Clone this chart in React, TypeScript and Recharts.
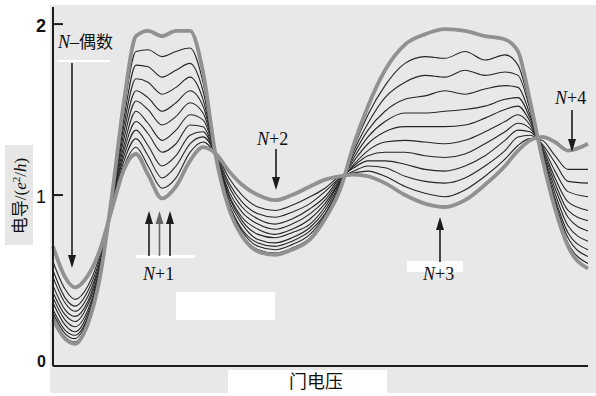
import { LineChart, Line, XAxis, YAxis } from "recharts";

// gate voltage, arbitrary units (0 = left edge of the plot)
const gateVoltage = [
  0, 12, 22, 35, 47, 59, 71, 83, 95, 109, 123, 137, 150, 163, 176, 189, 205, 222, 239,
  257, 272, 287, 301, 315, 332, 352, 372, 392, 412, 432, 452, 465, 477, 489, 502, 515, 535,
];

// conductance in e^2/h, coldest trace first, warmest last
const trace1 = [.27, .16, .13, .25, .52, 1.00, 1.55, 1.93, 1.96, 1.93, 1.96, 1.96, 1.72, 1.22, .92, .76, .67, .65, .68, .74, .86, 1.03, 1.30, 1.52, 1.73, 1.88, 1.94, 1.97, 1.96, 1.93, 1.91, 1.84, 1.55, 1.22, .92, .70, .57];
const trace2 = [.29, .17, .14, .26, .53, .99, 1.50, 1.84, 1.85, 1.81, 1.84, 1.86, 1.66, 1.22, .93, .77, .68, .66, .69, .75, .87, 1.04, 1.28, 1.47, 1.64, 1.77, 1.81, 1.80, 1.84, 1.79, 1.82, 1.76, 1.52, 1.22, .94, .72, .60];
const trace3 = [.31, .19, .16, .28, .53, .99, 1.45, 1.76, 1.75, 1.69, 1.73, 1.77, 1.61, 1.22, .94, .79, .70, .68, .71, .77, .88, 1.05, 1.26, 1.42, 1.57, 1.66, 1.70, 1.69, 1.73, 1.70, 1.72, 1.70, 1.50, 1.23, .96, .75, .64];
const trace4 = [.33, .21, .18, .29, .54, .98, 1.41, 1.68, 1.66, 1.59, 1.63, 1.69, 1.56, 1.22, .95, .80, .72, .70, .73, .79, .89, 1.06, 1.24, 1.38, 1.49, 1.56, 1.58, 1.61, 1.59, 1.62, 1.64, 1.63, 1.47, 1.24, .98, .78, .68];
const trace5 = [.37, .24, .20, .31, .56, .97, 1.37, 1.61, 1.57, 1.49, 1.54, 1.61, 1.52, 1.23, .97, .83, .74, .72, .75, .81, .91, 1.07, 1.22, 1.34, 1.43, 1.48, 1.48, 1.49, 1.50, 1.52, 1.56, 1.57, 1.45, 1.25, 1.01, .82, .73];
const trace6 = [.40, .27, .23, .33, .57, .97, 1.33, 1.55, 1.50, 1.41, 1.46, 1.54, 1.48, 1.23, .99, .85, .77, .75, .78, .83, .93, 1.08, 1.20, 1.30, 1.37, 1.40, 1.40, 1.40, 1.41, 1.45, 1.50, 1.52, 1.43, 1.26, 1.04, .87, .79];
const trace7 = [.43, .30, .26, .36, .58, .96, 1.29, 1.49, 1.42, 1.32, 1.38, 1.47, 1.44, 1.23, 1.00, .87, .80, .77, .80, .86, .95, 1.08, 1.18, 1.26, 1.31, 1.32, 1.31, 1.30, 1.32, 1.37, 1.43, 1.47, 1.41, 1.27, 1.07, .91, .85];
const trace8 = [.47, .33, .29, .38, .60, .95, 1.26, 1.43, 1.36, 1.25, 1.30, 1.41, 1.40, 1.23, 1.02, .90, .83, .80, .83, .89, .97, 1.09, 1.17, 1.23, 1.25, 1.25, 1.23, 1.22, 1.24, 1.30, 1.37, 1.42, 1.39, 1.28, 1.10, .96, .91];
const trace9 = [.52, .37, .32, .41, .61, .95, 1.23, 1.38, 1.29, 1.17, 1.23, 1.35, 1.37, 1.23, 1.05, .93, .86, .83, .86, .92, .99, 1.10, 1.16, 1.20, 1.20, 1.18, 1.15, 1.14, 1.17, 1.23, 1.32, 1.38, 1.37, 1.29, 1.14, 1.02, .99];
const trace10 = [.56, .40, .35, .44, .63, .94, 1.20, 1.33, 1.23, 1.10, 1.17, 1.30, 1.34, 1.24, 1.07, .96, .89, .87, .90, .95, 1.02, 1.10, 1.14, 1.17, 1.16, 1.11, 1.08, 1.07, 1.10, 1.17, 1.26, 1.34, 1.35, 1.30, 1.19, 1.08, 1.07];
const trace11 = [.61, .45, .39, .47, .65, .93, 1.17, 1.28, 1.17, 1.04, 1.10, 1.25, 1.31, 1.24, 1.10, 1.00, .93, .91, .94, .99, 1.04, 1.11, 1.13, 1.14, 1.11, 1.05, 1.01, .99, 1.03, 1.11, 1.21, 1.29, 1.33, 1.32, 1.23, 1.15, 1.15];
const trace12 = [.70, .52, .46, .53, .68, .92, 1.15, 1.24, 1.12, .98, 1.05, 1.20, 1.28, 1.24, 1.14, 1.06, 1.00, .97, 1.00, 1.05, 1.09, 1.11, 1.12, 1.11, 1.07, 1.00, .95, .93, .97, 1.06, 1.17, 1.26, 1.32, 1.34, 1.31, 1.26, 1.30];

const traces = [trace1, trace2, trace3, trace4, trace5, trace6, trace7, trace8, trace9, trace10, trace11, trace12];
const yTicks = [0, 1, 2];

const data = gateVoltage.map((v, i) => {
  const row: Record<string, number> = { v };
  traces.forEach((t, k) => {
    row["t" + k] = t[i];
  });
  return row;
});

const INK = "#1c1c1c";
const SERIF = "'Liberation Serif', 'DejaVu Serif', serif";
const CJK = "'Noto Sans CJK SC', sans-serif";

function YTick(props: any) {
  const { y, payload } = props;
  const v = payload.value;
  return (
    <g>
      {v > 0 && <line x1={53} x2={63} y1={y} y2={y} stroke={INK} strokeWidth={2} />}
      <text
        x={46}
        y={v === 0 ? y - 5 : y + 2}
        dy="0.35em"
        textAnchor="end"
        fontSize={v === 0 ? 16 : 18}
        fontWeight={v === 1 ? 400 : 700}
        fontFamily="'Liberation Sans', Arial, sans-serif"
        fill="#111"
      >
        {v}
      </text>
    </g>
  );
}

function Arrow({ x, from, to, color = INK }: { x: number; from: number; to: number; color?: string }) {
  const dir = to > from ? 1 : -1;
  return (
    <g>
      <line x1={x} x2={x} y1={from} y2={to - dir * 9} stroke={color} strokeWidth={1.6} />
      <polygon points={`${x},${to} ${x - 4},${to - dir * 13} ${x + 4},${to - dir * 13}`} fill={color} />
    </g>
  );
}

function Label({ x, y, n }: { x: number; y: number; n: string }) {
  return (
    <text x={x} y={y} fontSize={18} fontFamily={SERIF} fill="#111">
      <tspan fontStyle="italic">N</tspan>
      {n}
    </text>
  );
}

const box = (left: number, top: number, width: number, height: number, background: string) => (
  <div style={{ position: "absolute", left, top, width, height, background }} />
);

export default function App() {
  return (
    <div style={{ position: "absolute", left: 0, top: 0, width: 596, height: 396, background: "#fff", overflow: "hidden" }}>
      {box(50, 5, 546, 388, "#e8e8e8")}
      {box(5, 145, 28, 100, "#e6e6e6")}
      {box(57, 60, 53, 2, "#fff")}
      {box(176, 292, 99, 28, "#fff")}
      {box(136, 255, 59, 3, "#fff")}
      {box(407, 261, 56, 11, "#fff")}
      {box(228, 370, 159, 26, "#fff")}
      <div style={{ position: "absolute", left: 0, top: 0 }}>
        <LineChart width={596} height={396} data={data} margin={{ top: 7, right: 8, bottom: 0, left: 0 }}>
          <XAxis
            dataKey="v"
            type="number"
            domain={[0, 535]}
            height={30}
            tick={false}
            tickLine={false}
            axisLine={{ stroke: INK, strokeWidth: 2 }}
          />
          <YAxis
            type="number"
            domain={[0, 2.1]}
            ticks={yTicks}
            width={53}
            tickLine={false}
            tick={<YTick />}
            axisLine={{ stroke: INK, strokeWidth: 2 }}
          />
          {traces.map((_, k) =>
            k === 0 || k === traces.length - 1 ? null : (
              <Line
                key={k}
                dataKey={"t" + k}
                type="monotone"
                stroke="#262626"
                strokeWidth={1.1}
                dot={false}
                isAnimationActive={false}
              />
            )
          )}
          {[0, traces.length - 1].map((k) => (
            <Line
              key={"thick" + k}
              dataKey={"t" + k}
              type="monotone"
              stroke="#919191"
              strokeWidth={3.8}
              dot={false}
              isAnimationActive={false}
            />
          ))}
        </LineChart>
      </div>
      <svg width={596} height={396} style={{ position: "absolute", left: 0, top: 0, pointerEvents: "none" }}>
        <text x={58} y={48} fontSize={18} fill="#111">
          <tspan fontFamily={SERIF} fontStyle="italic">N</tspan>
          <tspan fontFamily={SERIF}>–</tspan>
          <tspan fontFamily={CJK} fontSize={17}>偶数</tspan>
        </text>
        <Arrow x={72} from={63} to={268} />
        <Arrow x={149} from={256} to={211} />
        <Arrow x={159.5} from={256} to={211} color="#666" />
        <Arrow x={170} from={256} to={211} />
        <Label x={143} y={280} n="+1" />
        <Label x={257} y={145} n="+2" />
        <Arrow x={276} from={149} to={190} />
        <Arrow x={440} from={262} to={217} />
        <Label x={423} y={280} n="+3" />
        <Label x={555} y={104} n="+4" />
        <Arrow x={572} from={110} to={152} />
        <text
          transform="rotate(-90 20 196)"
          x={20}
          y={196}
          dy="0.35em"
          textAnchor="middle"
          fontSize={17}
          fill="#111"
        >
          <tspan fontFamily={CJK}>电导</tspan>
          <tspan fontFamily={SERIF}>/(</tspan>
          <tspan fontFamily={SERIF} fontStyle="italic">e</tspan>
          <tspan fontFamily={SERIF} fontSize={11} dy={-6}>2</tspan>
          <tspan fontFamily={SERIF} dy={6}>/</tspan>
          <tspan fontFamily={SERIF} fontStyle="italic">h</tspan>
          <tspan fontFamily={SERIF}>)</tspan>
        </text>
        <text x={316} y={388} textAnchor="middle" fontSize={18} fontFamily={CJK} fill="#111">
          门电压
        </text>
      </svg>
    </div>
  );
}
